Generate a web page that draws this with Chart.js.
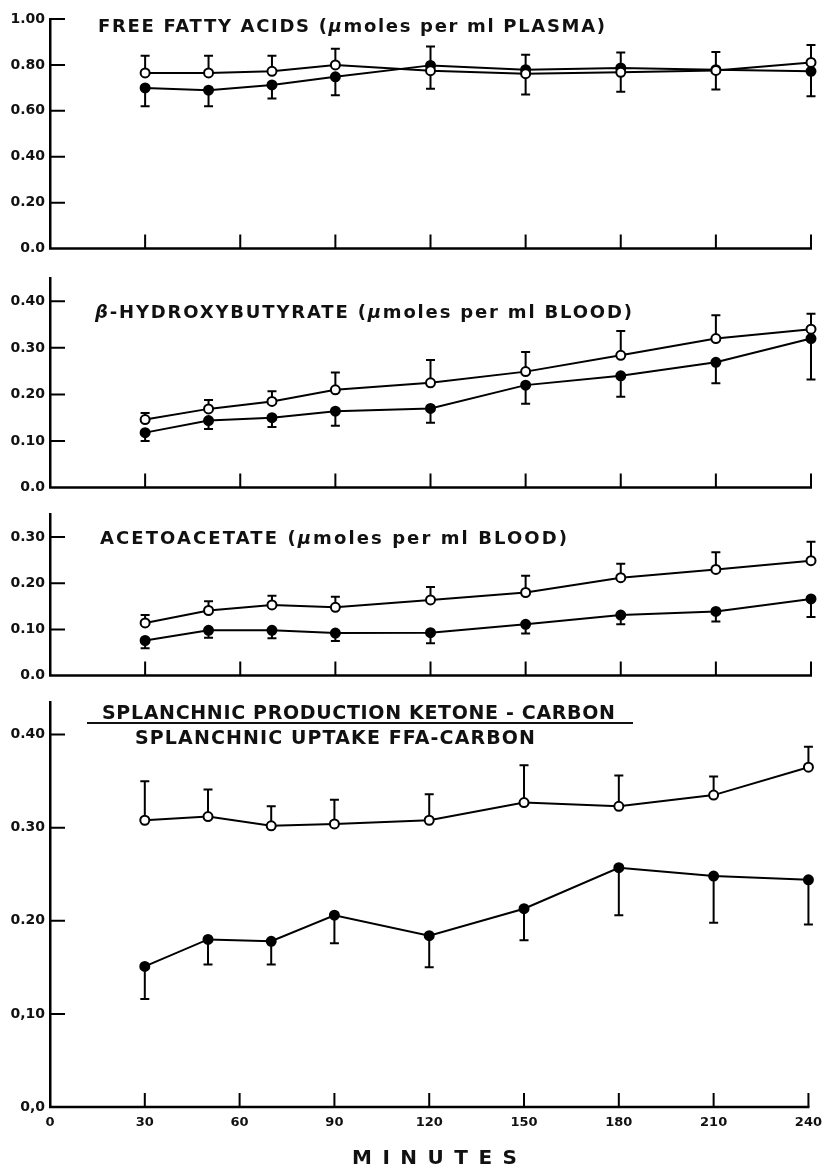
<!DOCTYPE html>
<html><head><meta charset="utf-8">
<script src="https://cdn.jsdelivr.net/npm/chart.js@4"></script>
<style>
html,body{margin:0;padding:0;background:#fff;}
body{width:830px;height:1165px;position:relative;overflow:hidden;font-family:"DejaVu Sans",sans-serif;}
canvas{position:absolute;left:0;}
.t{position:absolute;white-space:nowrap;color:#111;font-family:"DejaVu Sans",sans-serif;font-weight:bold;font-size:18px;line-height:18px;z-index:5;}
.t19{font-size:19px;line-height:19px;}
.t20{font-size:20px;line-height:20px;}
.bar{position:absolute;background:#111;height:2px;z-index:5;}
</style></head><body>
<canvas id="c1" width="830" height="260" style="top:2px"></canvas>
<canvas id="c2" width="830" height="240" style="top:261px"></canvas>
<canvas id="c3" width="830" height="192" style="top:497px"></canvas>
<canvas id="c4" width="830" height="480" style="top:685px"></canvas>

<div class="t" data-w="507" style="left:98px;top:17px">FREE FATTY ACIDS (<i>μ</i>moles per ml PLASMA)</div>
<div class="t" data-w="537" style="left:95px;top:303px"><i>β</i>-HYDROXYBUTYRATE (<i>μ</i>moles per ml BLOOD)</div>
<div class="t" data-w="467" style="left:100px;top:529px">ACETOACETATE (<i>μ</i>moles per ml BLOOD)</div>
<div class="t t19" data-w="513" style="left:102px;top:702.5px">SPLANCHNIC PRODUCTION KETONE - CARBON</div>
<div class="bar" style="left:87px;top:722px;width:546px"></div>
<div class="t t19" data-w="400" style="left:135px;top:727.5px">SPLANCHNIC UPTAKE FFA-CARBON</div>
<div class="t t20" data-w="165" style="left:352px;top:1147px">MINUTES</div>

<script>
// ---- data ----
const minutes = [30, 50, 70, 90, 120, 150, 180, 210, 240];
const xTicks = [0, 30, 60, 90, 120, 150, 180, 210, 240];
const xTickLabels = ['0', '30', '60', '90', '120', '150', '180', '210', '240'];

const ffaOpen        = [0.765, 0.765, 0.772, 0.800, 0.775, 0.762, 0.768, 0.776, 0.811];
const ffaOpenUpper   = [0.840, 0.840, 0.840, 0.870, 0.880, 0.844, 0.854, 0.856, 0.887];
const ffaFilled      = [0.700, 0.690, 0.713, 0.748, 0.798, 0.779, 0.787, 0.779, 0.772];
const ffaFilledLower = [0.620, 0.620, 0.654, 0.668, 0.696, 0.671, 0.683, 0.693, 0.664];
const ffaTicks = [0, 0.2, 0.4, 0.6, 0.8, 1.0];
const ffaTickLabels = ['0.0', '0.20', '0.40', '0.60', '0.80', '1.00'];

const bhbOpen        = [0.146, 0.169, 0.185, 0.210, 0.225, 0.249, 0.284, 0.320, 0.340];
const bhbOpenUpper   = [0.160, 0.188, 0.207, 0.247, 0.274, 0.291, 0.336, 0.370, 0.373];
const bhbFilled      = [0.118, 0.144, 0.150, 0.164, 0.170, 0.220, 0.240, 0.269, 0.320];
const bhbFilledLower = [0.100, 0.126, 0.130, 0.133, 0.139, 0.180, 0.195, 0.224, 0.232];
const bhbTicks = [0, 0.1, 0.2, 0.3, 0.4];
const bhbTickLabels = ['0.0', '0.10', '0.20', '0.30', '0.40'];

const acacOpen        = [0.114, 0.141, 0.153, 0.148, 0.164, 0.180, 0.212, 0.230, 0.249];
const acacOpenUpper   = [0.131, 0.161, 0.173, 0.171, 0.192, 0.216, 0.242, 0.267, 0.290];
const acacFilled      = [0.076, 0.098, 0.098, 0.092, 0.093, 0.111, 0.131, 0.139, 0.166];
const acacFilledLower = [0.059, 0.082, 0.081, 0.075, 0.070, 0.091, 0.111, 0.117, 0.127];
const acacTicks = [0, 0.1, 0.2, 0.3];
const acacTickLabels = ['0.0', '0.10', '0.20', '0.30'];

const ratioOpen        = [0.308, 0.312, 0.302, 0.304, 0.308, 0.327, 0.323, 0.335, 0.365];
const ratioOpenUpper   = [0.350, 0.341, 0.323, 0.330, 0.336, 0.367, 0.356, 0.355, 0.387];
const ratioFilled      = [0.151, 0.180, 0.178, 0.206, 0.184, 0.213, 0.257, 0.248, 0.244];
const ratioFilledLower = [0.116, 0.153, 0.153, 0.176, 0.150, 0.179, 0.206, 0.198, 0.196];
const ratioTicks = [0, 0.1, 0.2, 0.3, 0.4];
const ratioTickLabels = ['0,0', '0,10', '0.20', '0.30', '0.40'];

// ---- drawing helpers ----
const refPlugin = {
  id: 'refMarks',
  beforeDatasetsDraw(chart) {
    const { ctx, scales: { x, y } } = chart;
    ctx.save();
    ctx.strokeStyle = '#000';
    ctx.lineWidth = 2;
    chart.data.datasets.forEach(ds => {
      (ds.errorBound || []).forEach((b, i) => {
        const px = x.getPixelForValue(ds.data[i].x);
        const py0 = y.getPixelForValue(ds.data[i].y);
        const py1 = y.getPixelForValue(b);
        ctx.beginPath();
        ctx.moveTo(px, py0); ctx.lineTo(px, py1);
        ctx.moveTo(px - 4.5, py1); ctx.lineTo(px + 4.5, py1);
        ctx.stroke();
      });
    });
    ctx.restore();
  },
  afterDraw(chart) {
    const { ctx, chartArea: a, scales: { x, y } } = chart;
    ctx.save();
    ctx.strokeStyle = '#000';
    ctx.lineWidth = 2.5;
    ctx.beginPath();
    ctx.moveTo(a.left - 1, a.bottom); ctx.lineTo(a.right + 1, a.bottom);
    ctx.stroke();
    ctx.lineWidth = 2;
    ctx.beginPath();
    xTicks.forEach(v => {
      if (v === 0) return;
      const px = x.getPixelForValue(v);
      ctx.moveTo(px, a.bottom); ctx.lineTo(px, a.bottom - 14);
    });
    y.ticks.forEach(t => {
      if (t.value === 0) return;
      const py = y.getPixelForValue(t.value);
      ctx.moveTo(a.left, py); ctx.lineTo(a.left + 15, py);
    });
    ctx.stroke();
    ctx.restore();
  }
};

function series(vals, bounds, filled) {
  return {
    data: minutes.map((m, i) => ({ x: m, y: vals[i] })),
    errorBound: bounds,
    borderColor: '#000',
    backgroundColor: filled ? '#000' : '#fff',
    pointBackgroundColor: filled ? '#000' : '#fff',
    pointBorderColor: '#000',
    pointRadius: 4.5,
    pointBorderWidth: 2,
    borderWidth: 2,
    tension: 0,
    fill: false,
    clip: false
  };
}

function panel(id, cfg) {
  return new Chart(document.getElementById(id), {
    type: 'line',
    data: { datasets: [series(cfg.open, cfg.openUpper, false), series(cfg.filled, cfg.filledLower, true)] },
    options: {
      responsive: false, animation: false, events: [],
      layout: { padding: { top: 17, right: 19, bottom: cfg.bottom ? 0 : 12, left: 0 } },
      plugins: { legend: { display: false }, tooltip: { enabled: false } },
      scales: {
        x: {
          type: 'linear', min: 0, max: 240, display: !!cfg.bottom,
          afterBuildTicks: s => { s.ticks = xTicks.map(v => ({ value: v })); },
          afterFit: s => { s.height = cfg.bottom ? 58 : 0; },
          grid: { display: false, drawTicks: false },
          border: { display: false },
          ticks: { padding: 8, color: '#111', autoSkip: false, maxRotation: 0,
                   font: { family: 'DejaVu Sans', size: 13, weight: 'bold' },
                   callback: (v, i) => xTickLabels[i] }
        },
        y: {
          min: 0, max: cfg.max,
          afterBuildTicks: s => { s.ticks = cfg.ticks.map(v => ({ value: v })); },
          afterFit: s => { s.width = 50; },
          grid: { display: false, drawTicks: false },
          border: { display: true, color: '#000', width: 2.5 },
          ticks: { padding: 5, color: '#111', autoSkip: false,
                   font: { family: 'DejaVu Sans', size: 14, weight: 'bold' },
                   callback: (v, i) => cfg.labels[i] }
        }
      }
    },
    plugins: [refPlugin]
  });
}

panel('c1', { open: ffaOpen, openUpper: ffaOpenUpper, filled: ffaFilled, filledLower: ffaFilledLower, max: 1.0, ticks: ffaTicks, labels: ffaTickLabels });
panel('c2', { open: bhbOpen, openUpper: bhbOpenUpper, filled: bhbFilled, filledLower: bhbFilledLower, max: 0.45, ticks: bhbTicks, labels: bhbTickLabels });
panel('c3', { open: acacOpen, openUpper: acacOpenUpper, filled: acacFilled, filledLower: acacFilledLower, max: 0.35, ticks: acacTicks, labels: acacTickLabels });
panel('c4', { open: ratioOpen, openUpper: ratioOpenUpper, filled: ratioFilled, filledLower: ratioFilledLower, max: 0.435, ticks: ratioTicks, labels: ratioTickLabels, bottom: true });

// fit title widths with letter spacing
document.querySelectorAll('.t[data-w]').forEach(el => {
  const target = parseFloat(el.dataset.w);
  el.style.letterSpacing = '0px';
  const w = el.getBoundingClientRect().width;
  const n = el.textContent.length;
  el.style.letterSpacing = ((target - w) / Math.max(1, n - 1)) + 'px';
});
</script>
</body></html>
